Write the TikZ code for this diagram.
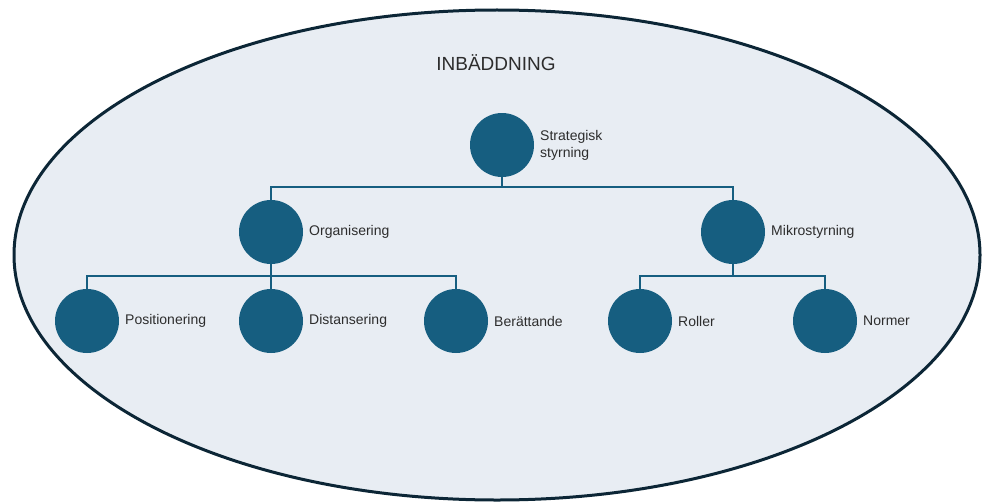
\documentclass[tikz,border=0pt]{standalone}
\usepackage{fontspec}
\setmainfont{Liberation Sans}
\usepackage{tikz}
\usepackage{xcolor}
\definecolor{bakgrund}{RGB}{232,237,243}
\definecolor{kant}{RGB}{12,38,54}
\definecolor{boll}{RGB}{22,94,128}
\definecolor{text}{RGB}{45,45,45}
\tikzset{
  boll/.style={circle, fill=boll, minimum size=64pt, inner sep=0pt},
  etikett/.style={right=2.5pt, font=\fontsize{14}{17}\selectfont, text=text, align=left},
  gren/.style={draw=boll, line width=2pt}
}

\begin{document}
\begin{tikzpicture}[x=1pt, y=-1pt]
  \useasboundingbox (0,0) rectangle (982,503);
  \draw[fill=bakgrund, draw=kant, line width=3pt] (497,255) ellipse [x radius=483, y radius=245];
  \node[font=\fontsize{19}{22}\selectfont, text=text] (titel) at (496,63) {INBÄDDNING};
  % nivå 1 och 2
  \node[boll] (strat) at (502,145) {}; \node[etikett] at (strat.east) {Strategisk\\styrning};
  \node[boll] (org) at (271,232) {}; \node[etikett] at (org.east) {Organisering};
  \node[boll] (mikro) at (733,232) {}; \node[etikett] at (mikro.east) {Mikrostyrning};
  % nivå 3
  \node[boll] (pos) at (87,321) {}; \node[etikett] at (pos.east) {Positionering};
  \node[boll] (dist) at (271,321) {}; \node[etikett] at (dist.east) {Distansering};
  \node[boll] (ber) at (456,321) {}; \node[etikett] at (ber.east) {Berättande};
  \node[boll] (rol) at (640,321) {}; \node[etikett] at (rol.east) {Roller};
  \node[boll] (norm) at (825,321) {}; \node[etikett] at (norm.east) {Normer};
  % grenar
  \coordinate (s1) at (502,187); \coordinate (o1) at (271,276); \coordinate (m1) at (733,276);
  \draw[gren] (strat.south) -- (s1) -| (org.north); \draw[gren] (s1) -| (mikro.north);
  \draw[gren] (org.south) -- (o1) -| (pos.north); \draw[gren] (o1) -| (ber.north); \draw[gren] (o1) -- (dist.north);
  \draw[gren] (mikro.south) -- (m1) -| (rol.north); \draw[gren] (m1) -| (norm.north);
\end{tikzpicture}
\end{document}
